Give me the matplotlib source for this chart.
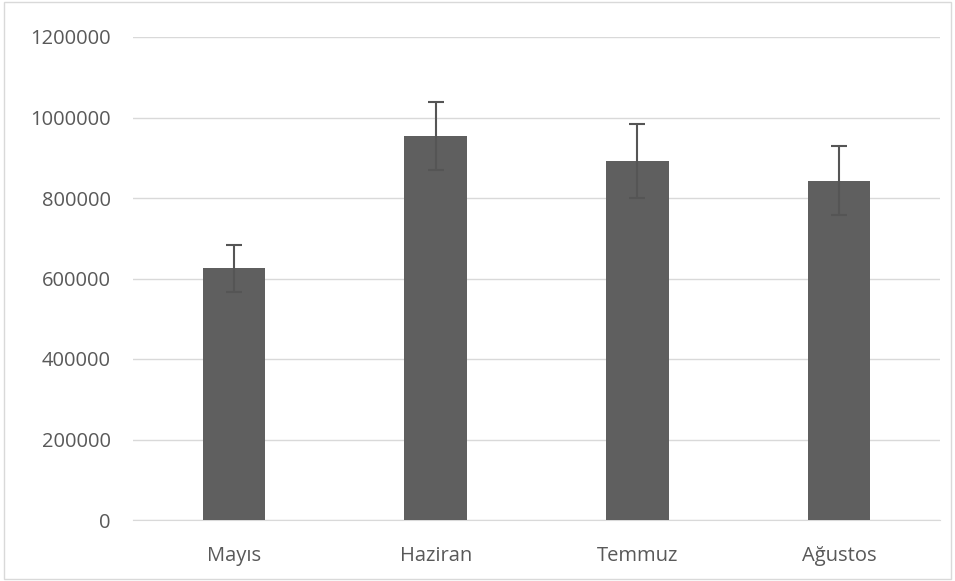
import matplotlib.pyplot as plt
import numpy as np

# chart data
months = ['Mayıs', 'Haziran', 'Temmuz', 'Ağustos']
values = [625000, 954000, 893000, 843000]
errors = [58000, 84000, 92000, 85000]
yticks = [0, 200000, 400000, 600000, 800000, 1000000, 1200000]

fig = plt.figure(figsize=(9.55, 5.81), dpi=100)
ax = fig.add_axes([133/955, 1 - 520/581, (940-133)/955, (520-37)/581])

x = np.arange(len(months))
ax.bar(x, values, width=0.31, color='#5f5f5f', zorder=3,
       yerr=errors, error_kw=dict(ecolor='#555555', elinewidth=1.5, capsize=6, capthick=1.5, zorder=4))

ax.set_xlim(-0.5, len(months) - 0.5)
ax.set_ylim(0, 1200000)
ax.set_yticks(yticks)
ax.set_yticklabels([str(v) for v in yticks])
ax.set_xticks(x)
ax.set_xticklabels(months)
ax.grid(axis='y', color='#d9d9d9', linewidth=1, zorder=0)
for s in ['top', 'right', 'left']:
    ax.spines[s].set_visible(False)
ax.spines['bottom'].set_color('#d9d9d9')
ax.tick_params(axis='both', length=0, labelsize=14.5, colors='#595959', labelfontfamily='Open Sans')
ax.tick_params(axis='y', pad=16)
ax.tick_params(axis='x', pad=19)

# outer border
fig.patches.append(plt.Rectangle((0.004, 0.004), 0.992, 0.992, transform=fig.transFigure,
                                 fill=False, edgecolor='#d9d9d9', linewidth=1))

fig.savefig('out.png', dpi=100)
